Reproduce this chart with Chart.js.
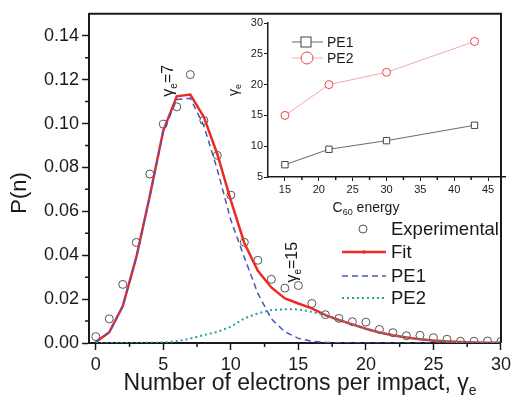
<!DOCTYPE html>
<html>
<head>
<meta charset="utf-8">
<script src="https://cdn.jsdelivr.net/npm/chart.js@4.4.1/dist/chart.umd.min.js"></script>
<style>
  html, body { margin: 0; padding: 0; background: #fff; }
  #wrap { position: relative; width: 515px; height: 405px; }
  #main { position: absolute; left: 0; top: 0; }
  #inset { position: absolute; left: 215px; top: 0; }
</style>
</head>
<body>
<div id="wrap">
  <canvas id="main" width="515" height="405"></canvas>
  <canvas id="inset" width="300" height="225"></canvas>
</div>
<script>
'use strict';

// ---- Main panel data ----
var electrons = [0, 1, 2, 3, 4, 5, 6, 7, 8, 9, 10, 11, 12, 13, 14, 15,
  16, 17, 18, 19, 20, 21, 22, 23, 24, 25, 26, 27, 28, 29, 30];
var experimental = [0.0029, 0.011, 0.0267, 0.0458, 0.077, 0.0997, 0.1076, 0.1223,
  0.1014, 0.0855, 0.0674, 0.0459, 0.0377, 0.029, 0.025, 0.0262, 0.018, 0.0129,
  0.0112, 0.0097, 0.0095, 0.0062, 0.0047, 0.0033, 0.0035, 0.0024, 0.0017,
  0.0008, 0.0008, 0.0009, 0.0007];
var fit = [0.0004, 0.0049, 0.0168, 0.039, 0.067, 0.0968, 0.1124, 0.1132, 0.103,
  0.086, 0.065, 0.0456, 0.0329, 0.0253, 0.0203, 0.018, 0.0158, 0.0127, 0.0105,
  0.0085, 0.0065, 0.0048, 0.0035, 0.0025, 0.0017, 0.0011, 0.0007, 0.0004,
  0.0002, 0.0001, 0.0001];
var pe1 = [0.0004, 0.0048, 0.0167, 0.039, 0.0668, 0.0962, 0.111, 0.1115, 0.099,
  0.079, 0.056, 0.039, 0.0226, 0.011, 0.0051, 0.0021, 0.0008, 0.0003, 0.0001,
  0, 0, 0, 0, 0, 0, 0, 0, 0, 0, 0, 0];
var pe2 = [0, 0, 0, 0, 0.0001, 0.0002, 0.0008, 0.002, 0.0036, 0.0051, 0.0074,
  0.0112, 0.0135, 0.015, 0.0154, 0.0153, 0.0142, 0.0127, 0.0105, 0.0085,
  0.0065, 0.0048, 0.0035, 0.0025, 0.0017, 0.0011, 0.0007, 0.0004, 0.0002,
  0.0001, 0.0001];

var xMajorTicks = [0, 5, 10, 15, 20, 25, 30];
var xMinorTicks = [2.5, 7.5, 12.5, 17.5, 22.5, 27.5];
var yMajorTicks = [0, 0.02, 0.04, 0.06, 0.08, 0.10, 0.12, 0.14];
var yMinorTicks = [0.01, 0.03, 0.05, 0.07, 0.09, 0.11, 0.13];

// ---- Inset data ----
var energies = [15, 21.5, 30, 43];
var gammaPE1 = [7, 9.5, 10.9, 13.4];
var gammaPE2 = [15, 20, 22, 27];
var insetXTicks = [15, 20, 25, 30, 35, 40, 45];
var insetXMinor = [17.5, 22.5, 27.5, 32.5, 37.5, 42.5];
var insetYTicks = [5, 10, 15, 20, 25, 30];

var FONT = '"Liberation Sans", Arial, sans-serif';
var AXIS = '#1a1a1a';

function pts(xs, ys) {
  return xs.map(function(x, i) { return { x: x, y: ys[i] }; });
}

// draws a run of text pieces, some of them subscripts, centred on (cx, cy)
function drawRich(ctx, segs, cx, cy, size, angle) {
  ctx.save();
  ctx.translate(cx, cy);
  if (angle) ctx.rotate(angle);
  ctx.textBaseline = 'middle';
  ctx.textAlign = 'left';
  var widths = segs.map(function(s) {
    ctx.font = (s.sub ? Math.round(size * 0.62) : size) + 'px ' + FONT;
    return ctx.measureText(s.t).width;
  });
  var total = widths.reduce(function(a, b) { return a + b; }, 0);
  var x = -total / 2;
  segs.forEach(function(s, i) {
    ctx.font = (s.sub ? Math.round(size * 0.62) : size) + 'px ' + FONT;
    ctx.fillStyle = AXIS;
    ctx.fillText(s.t, x, s.sub ? size * 0.32 : 0);
    x += widths[i];
  });
  ctx.restore();
}

function minorTicks(scale, values, len, horizontal) {
  var ctx = scale.ctx;
  ctx.save();
  ctx.strokeStyle = AXIS;
  ctx.lineWidth = 1.5;
  ctx.beginPath();
  values.forEach(function(v) {
    var p = scale.getPixelForValue(v);
    if (horizontal) {
      ctx.moveTo(p, scale.top);
      ctx.lineTo(p, scale.top + len);
    } else {
      ctx.moveTo(scale.right, p);
      ctx.lineTo(scale.right - len, p);
    }
  });
  ctx.stroke();
  ctx.restore();
}

// ---- Main chart ----
var mainDecor = {
  id: 'mainDecor',
  afterDraw: function(chart) {
    var ctx = chart.ctx, a = chart.chartArea;
    var xs = chart.scales.x, ys = chart.scales.y;
    // top and right frame
    ctx.save();
    ctx.strokeStyle = AXIS;
    ctx.lineWidth = 2;
    ctx.beginPath();
    ctx.moveTo(a.left, a.top);
    ctx.lineTo(a.right, a.top);
    ctx.lineTo(a.right, a.bottom);
    ctx.stroke();
    ctx.restore();

    minorTicks(xs, xMinorTicks, 4, true);
    minorTicks(ys, yMinorTicks, 4, false);

    // axis titles
    drawRich(ctx, [{ t: 'Number of electrons per impact, γ' }, { t: 'e', sub: true }],
      (a.left + a.right) / 2 + 5, 384, 23, 0);
    drawRich(ctx, [{ t: 'P(n)' }], 20, 193, 22, -Math.PI / 2);

    // peak annotations
    drawRich(ctx, [{ t: 'γ' }, { t: 'e', sub: true }, { t: '=7' }],
      xs.getPixelForValue(5.4), ys.getPixelForValue(0.1195), 16, -Math.PI / 2);
    drawRich(ctx, [{ t: 'γ' }, { t: 'e', sub: true }, { t: '=15' }],
      xs.getPixelForValue(14.6), ys.getPixelForValue(0.0368), 16, -Math.PI / 2);

    // legend
    var ds = chart.data.datasets;
    var rows = [
      { d: ds[3], y: 229 },
      { d: ds[2], y: 252 },
      { d: ds[1], y: 276 },
      { d: ds[0], y: 298 }
    ];
    rows.forEach(function(r) {
      var d = r.d;
      ctx.save();
      if (d.showLine) {
        ctx.strokeStyle = d.borderColor;
        ctx.lineWidth = d.borderWidth;
        ctx.setLineDash(d.borderDash || []);
        ctx.beginPath();
        ctx.moveTo(342, r.y);
        ctx.lineTo(386, r.y);
        ctx.stroke();
        if (d.label === 'Fit') {
          ctx.fillStyle = d.borderColor;
          ctx.beginPath();
          ctx.arc(364, r.y, 1.8, 0, Math.PI * 2);
          ctx.fill();
        }
      } else {
        ctx.strokeStyle = d.pointBorderColor;
        ctx.lineWidth = d.pointBorderWidth;
        ctx.beginPath();
        ctx.arc(363, r.y, d.pointRadius, 0, Math.PI * 2);
        ctx.stroke();
      }
      ctx.restore();
      ctx.font = '18.5px ' + FONT;
      ctx.fillStyle = AXIS;
      ctx.textBaseline = 'middle';
      ctx.textAlign = 'left';
      ctx.fillText(d.label, 391, r.y + 1);
    });
  }
};

new Chart(document.getElementById('main'), {
  type: 'scatter',
  data: {
    datasets: [
      {
        label: 'PE2',
        data: pts(electrons, pe2),
        showLine: true,
        borderColor: '#2a9d9f',
        borderWidth: 2,
        borderDash: [2, 3],
        pointRadius: 0
      },
      {
        label: 'PE1',
        data: pts(electrons, pe1),
        showLine: true,
        borderColor: '#4657b8',
        borderWidth: 1.5,
        borderDash: [6, 4],
        pointRadius: 0
      },
      {
        label: 'Fit',
        data: pts(electrons, fit),
        showLine: true,
        borderColor: '#ee2a24',
        borderWidth: 2.5,
        pointRadius: 0
      },
      {
        label: 'Experimental',
        data: pts(electrons, experimental),
        showLine: false,
        pointStyle: 'circle',
        pointRadius: 4,
        pointBackgroundColor: 'rgba(255,255,255,0)',
        pointBorderColor: '#555555',
        pointBorderWidth: 1
      }
    ]
  },
  options: {
    responsive: false,
    animation: false,
    events: [],
    layout: { padding: { top: 13, right: 10, left: 0, bottom: 0 } },
    plugins: { legend: { display: false }, tooltip: { enabled: false } },
    scales: {
      x: {
        type: 'linear',
        min: -0.5,
        max: 30,
        afterBuildTicks: function(s) { s.ticks = xMajorTicks.map(function(v) { return { value: v }; }); },
        afterFit: function(s) { s.height = 62; },
        grid: { drawOnChartArea: false, drawTicks: true, tickLength: 7, tickColor: AXIS, tickWidth: 1.5 },
        border: { display: true, color: AXIS, width: 2 },
        ticks: { color: AXIS, font: { family: FONT, size: 18 }, padding: 4, maxRotation: 0 }
      },
      y: {
        type: 'linear',
        min: 0,
        max: 0.15,
        afterBuildTicks: function(s) { s.ticks = yMajorTicks.map(function(v) { return { value: v }; }); },
        afterFit: function(s) { s.width = 89; },
        grid: { drawOnChartArea: false, drawTicks: true, tickLength: 7, tickColor: AXIS, tickWidth: 1.5 },
        border: { display: true, color: AXIS, width: 2 },
        ticks: {
          color: AXIS,
          font: { family: FONT, size: 18 },
          padding: 3,
          callback: function(v) { return Number(v).toFixed(2); }
        }
      }
    }
  },
  plugins: [mainDecor]
});

// ---- Inset chart ----
var insetDecor = {
  id: 'insetDecor',
  afterDraw: function(chart) {
    var ctx = chart.ctx;
    minorTicks(chart.scales.x, insetXMinor, 3, true);
    drawRich(ctx, [{ t: 'γ' }, { t: 'e', sub: true }], 19, 90, 14, -Math.PI / 2);
    drawRich(ctx, [{ t: 'C' }, { t: '60', sub: true }, { t: ' energy' }], 151, 208, 14, 0);

    var ds = chart.data.datasets;
    [{ d: ds[0], y: 42 }, { d: ds[1], y: 58 }].forEach(function(r) {
      var d = r.d;
      ctx.save();
      ctx.strokeStyle = d.borderColor;
      ctx.lineWidth = 1;
      ctx.beginPath();
      ctx.moveTo(77, r.y);
      ctx.lineTo(108, r.y);
      ctx.stroke();
      ctx.fillStyle = '#fff';
      ctx.strokeStyle = d.pointBorderColor;
      if (d.pointStyle === 'rect') {
        ctx.fillRect(86, r.y - 5, 10, 10);
        ctx.strokeRect(86, r.y - 5, 10, 10);
      } else {
        ctx.beginPath();
        ctx.arc(92, r.y, 6, 0, Math.PI * 2);
        ctx.fill();
        ctx.stroke();
      }
      ctx.restore();
      ctx.font = '14px ' + FONT;
      ctx.fillStyle = AXIS;
      ctx.textBaseline = 'middle';
      ctx.textAlign = 'left';
      ctx.fillText(d.label, 112, r.y + 1);
    });
  }
};

new Chart(document.getElementById('inset'), {
  type: 'scatter',
  data: {
    datasets: [
      {
        label: 'PE1',
        data: pts(energies, gammaPE1),
        showLine: true,
        borderColor: '#6a6a6a',
        borderWidth: 1,
        pointStyle: 'rect',
        pointRadius: 4.5,
        pointBackgroundColor: '#ffffff',
        pointBorderColor: '#444444',
        pointBorderWidth: 1
      },
      {
        label: 'PE2',
        data: pts(energies, gammaPE2),
        showLine: true,
        borderColor: '#f6a8a8',
        borderWidth: 1,
        pointStyle: 'circle',
        pointRadius: 4,
        pointBackgroundColor: '#ffffff',
        pointBorderColor: '#ee4444',
        pointBorderWidth: 1
      }
    ]
  },
  options: {
    responsive: false,
    animation: false,
    events: [],
    layout: { padding: { top: 23, right: 10, left: 0, bottom: 0 } },
    plugins: { legend: { display: false }, tooltip: { enabled: false } },
    scales: {
      x: {
        type: 'linear',
        min: 12.5,
        max: 47.5,
        afterBuildTicks: function(s) { s.ticks = insetXTicks.map(function(v) { return { value: v }; }); },
        afterFit: function(s) { s.height = 48; },
        grid: { drawOnChartArea: false, drawTicks: true, tickLength: 4, tickColor: AXIS, tickWidth: 1 },
        border: { display: true, color: AXIS, width: 1.5 },
        ticks: { color: AXIS, font: { family: FONT, size: 11 }, padding: 2, maxRotation: 0 }
      },
      y: {
        type: 'linear',
        min: 5,
        max: 30,
        afterBuildTicks: function(s) { s.ticks = insetYTicks.map(function(v) { return { value: v }; }); },
        afterFit: function(s) { s.width = 53; },
        grid: { drawOnChartArea: false, drawTicks: true, tickLength: 4, tickColor: AXIS, tickWidth: 1 },
        border: { display: true, color: AXIS, width: 1.5 },
        ticks: { color: AXIS, font: { family: FONT, size: 11 }, padding: 1 }
      }
    }
  },
  plugins: [insetDecor]
});
</script>
</body>
</html>
